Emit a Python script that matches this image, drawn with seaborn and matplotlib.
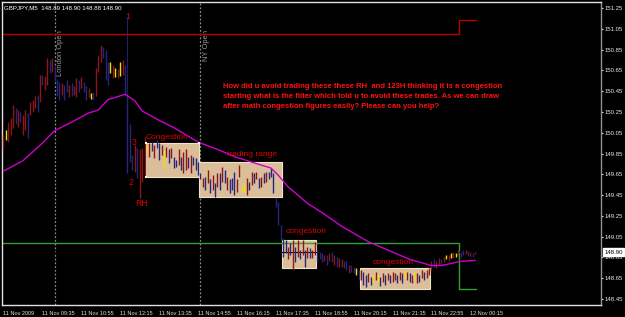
import matplotlib
matplotlib.use("Agg")
import matplotlib.pyplot as plt
import seaborn as sns
import pandas as pd
from matplotlib.patches import Rectangle

# ---------------- data ----------------
symbol_title = "GBPJPY,M5  148.89 148.90 148.88 148.90"

bar_high = [
    150.03, 150.08, 150.15, 150.19, 150.32, 150.29, 150.27, 150.25, 150.22, 150.27,
    150.24, 150.35, 150.37, 150.40, 150.41, 150.61, 150.61, 150.60, 150.77, 150.75,
    150.77, 150.69, 150.56, 150.54, 150.53, 150.51, 150.56, 150.51, 150.53, 150.50,
    150.58, 150.56, 150.59, 150.54, 150.50, 150.48, 150.43, 150.44, 150.67, 150.80,
    150.90, 150.88, 150.85, 150.73, 150.73, 150.70, 150.67, 150.66, 150.73, 150.75,
    150.70, 150.43, 150.13, 149.84, 149.93, 149.90, 149.89, 149.90, 150.01, 149.93,
    149.95, 149.96, 149.93, 149.98, 149.95, 149.93, 149.87, 149.91, 149.89, 149.90,
    149.82, 149.79, 149.89, 149.82, 149.86, 149.89, 149.82, 149.84, 149.82, 149.81,
    149.77, 149.66, 149.61, 149.62, 149.69, 149.60, 149.64, 149.57, 149.66, 149.66,
    149.72, 149.69, 149.62, 149.60, 149.61, 149.67, 149.60, 149.74, 149.53, 149.57,
    149.61, 149.58, 149.67, 149.66, 149.67, 149.61, 149.62, 149.66, 149.67, 149.67,
    149.71, 149.66, 149.42, 149.38, 149.16, 149.04, 149.02, 148.95, 148.99, 149.02,
    148.95, 149.02, 148.92, 149.02, 148.92, 148.95, 148.94, 148.92, 149.00, 148.92,
    148.90, 148.89, 148.87, 148.87, 148.89, 148.90, 148.87, 148.85, 148.84, 148.83,
    148.81, 148.81, 148.78, 148.78, 148.76, 148.75, 148.73, 148.73, 148.71, 148.68,
    148.70, 148.66, 148.68, 148.71, 148.68, 148.66, 148.70, 148.68, 148.70, 148.68,
    148.71, 148.70, 148.68, 148.71, 148.70, 148.73, 148.71, 148.70, 148.68, 148.71,
    148.70, 148.68, 148.73, 148.71, 148.73, 148.75, 148.81, 148.83, 148.81, 148.84,
    148.83, 148.85, 148.87, 148.87, 148.89, 148.90, 148.89, 148.92, 148.90, 148.92,
    148.92, 148.91, 148.90, 148.89, 148.90,
]
bar_low = [
    149.89, 149.98, 149.96, 150.03, 150.10, 150.13, 150.11, 150.15, 150.03, 150.08,
    150.00, 150.22, 150.25, 150.29, 150.25, 150.35, 150.51, 150.46, 150.51, 150.63,
    150.64, 150.54, 150.40, 150.37, 150.41, 150.37, 150.44, 150.39, 150.40, 150.41,
    150.39, 150.44, 150.48, 150.44, 150.37, 150.39, 150.38, 150.37, 150.40, 150.64,
    150.73, 150.77, 150.56, 150.51, 150.63, 150.58, 150.59, 150.58, 150.60, 150.61,
    150.41, 149.66, 149.77, 149.69, 149.67, 149.61, 149.42, 149.58, 149.64, 149.87,
    149.82, 149.87, 149.81, 149.90, 149.79, 149.84, 149.71, 149.82, 149.76, 149.81,
    149.71, 149.72, 149.74, 149.69, 149.66, 149.69, 149.71, 149.66, 149.74, 149.69,
    149.64, 149.60, 149.53, 149.50, 149.57, 149.47, 149.50, 149.43, 149.53, 149.50,
    149.58, 149.57, 149.50, 149.47, 149.50, 149.45, 149.48, 149.62, 149.48, 149.48,
    149.45, 149.50, 149.55, 149.57, 149.60, 149.52, 149.53, 149.57, 149.58, 149.60,
    149.62, 149.47, 149.33, 149.16, 149.02, 148.85, 148.89, 148.83, 148.87, 148.73,
    148.80, 148.85, 148.83, 148.87, 148.76, 148.84, 148.84, 148.84, 148.87, 148.80,
    148.83, 148.80, 148.81, 148.78, 148.81, 148.80, 148.78, 148.76, 148.76, 148.76,
    148.75, 148.73, 148.70, 148.71, 148.70, 148.68, 148.63, 148.63, 148.58, 148.56,
    148.61, 148.58, 148.60, 148.63, 148.60, 148.57, 148.61, 148.58, 148.63, 148.60,
    148.61, 148.63, 148.60, 148.63, 148.60, 148.65, 148.63, 148.61, 148.60, 148.63,
    148.60, 148.61, 148.65, 148.63, 148.65, 148.68, 148.73, 148.76, 148.75, 148.78,
    148.78, 148.80, 148.83, 148.81, 148.84, 148.84, 148.85, 148.86, 148.85, 148.87,
    148.88, 148.86, 148.86, 148.85, 148.88,
]
# r = up bar, b = down bar, y = highlighted bar
bar_kind = list(
    "ryrrrbrbrrbrrrbrbrrb" "rbbbrbbrbrrbrbbrybrr" "rbbbyryryrbbbbrbrrry"
    "rbrbbryrbrbbrbrrbrbb" "bbrbrbrbrbrbrbbbrryy" "rbrbrbrbrbbbbbbbbrbr"
    "brbrbrbrrbbbrbrbrbrr" "bbrbbybrbbrbyrybrbrb" "rrbrbyrbryrbrbrrrbrr"
    "bryryryrbbrbrbr"
)

ma_bar = [0, 8, 16, 21, 27, 35, 39, 43, 50, 54, 57, 64, 70, 80, 88, 95, 103, 110,
          113, 117, 125, 131, 139, 150, 158, 167, 176, 180, 188, 194]
ma_value = [149.68, 149.78, 149.95, 150.07, 150.14, 150.24, 150.27, 150.37, 150.42,
            150.36, 150.26, 150.17, 150.10, 149.96, 149.89, 149.82, 149.76, 149.71,
            149.64, 149.53, 149.37, 149.28, 149.15, 149.00, 148.92, 148.83, 148.77,
            148.77, 148.81, 148.82]

level_bar = [0, 187.5, 194.5]
upper_level = [151.00, 151.14, 151.14]
lower_level = [148.99, 148.54, 148.54]

bid_price = 148.90
session_bar = [21, 81]
session_label = ["London Open", "NY Open"]
marker1_bar = 51

# boxes: start bar, end bar, top price, bottom price, label
box_start = [58.7, 80.4, 114.5, 146.5]
box_end = [80.4, 114.5, 128.4, 175.2]
box_top = [149.95, 149.77, 149.02, 148.75]
box_bottom = [149.62, 149.43, 148.75, 148.54]
box_label = ["Congestion", "trading range", "congestion", "congestion"]

x_tick_bar = list(range(0, 193, 16))
x_tick_label = ["11 Nov 2009", "11 Nov 09:35", "11 Nov 10:55", "11 Nov 12:15",
                "11 Nov 13:35", "11 Nov 14:55", "11 Nov 16:15", "11 Nov 17:35",
                "11 Nov 18:55", "11 Nov 20:15", "11 Nov 21:35", "11 Nov 22:55",
                "12 Nov 00:15"]
y_tick_value = [151.25, 151.05, 150.85, 150.65, 150.45, 150.25, 150.05, 149.85,
                149.65, 149.45, 149.25, 149.05, 148.85, 148.65, 148.45]

question = ("How did u avoid trading these these RH  and 123H thinking it is a congestion\n"
            "starting what is the filter which told u to avoid these trades. As we can draw\n"
            "after math congestion figures easily? Please can you help?")

# ---------------- style ----------------
sns.set_style("dark")
plt.rcParams["font.family"] = ["Liberation Sans", "DejaVu Sans"]

fig = plt.figure(figsize=(6.25, 3.17), dpi=100, facecolor="black")
ax = fig.add_axes([2 / 625, 12 / 317, 599 / 625, 303 / 317])
ax.set_facecolor("black")

XMAX = 245.7
ax.set_xlim(-0.6, XMAX)
ax.set_ylim(148.39, 151.31)

# boxes
for s, e, t, b in zip(box_start, box_end, box_top, box_bottom):
    ax.add_patch(Rectangle((s, b), e - s, t - b, facecolor="#DABE99",
                           edgecolor="#F2E2C8", lw=0.8, zorder=1))

# session lines
for sb, lab in zip(session_bar, session_label):
    ax.axvline(sb, color="#8A8A8A", lw=0.9, ls=(0, (1.5, 1.5)), zorder=0.5)
    ax.text(sb + 1.0, 151.04, lab, rotation=90, color="#9A9A9A", fontsize=5.4,
            ha="left", va="top", zorder=2)

# bars (muted inside the boxes, as in the reference)
colmap = {"r": "#8E1616", "b": "#26267E", "y": "#F0E000"}
bars = pd.DataFrame({"bar": range(len(bar_high)), "high": bar_high,
                     "low": bar_low, "kind": bar_kind})
for k, grp in bars.groupby("kind"):
    ax.vlines(grp["bar"], grp["low"], grp["high"], color=colmap[k], lw=1.0, zorder=3)

# marker "1" vertical line
ax.vlines(marker1_bar, bar_high[marker1_bar], 151.17, color="#20206A", lw=0.8, zorder=2)

# levels
lv = pd.DataFrame({"bar": level_bar, "up": upper_level, "lo": lower_level})
sns.lineplot(data=lv, x="bar", y="up", ax=ax, color="#B80000", lw=1.0,
             drawstyle="steps-post", estimator=None, zorder=2)
sns.lineplot(data=lv, x="bar", y="lo", ax=ax, color="#33A033", lw=1.0,
             drawstyle="steps-post", estimator=None, zorder=2)

# moving average
ma = pd.DataFrame({"bar": ma_bar, "ma": ma_value})
sns.lineplot(data=ma, x="bar", y="ma", ax=ax, color="#CC00CC", lw=1.0,
             estimator=None, zorder=4)

# bid line
ax.axhline(bid_price, color="black", lw=0.8, zorder=2.5)

# corner handles of the first box
ax.scatter([box_start[0], box_end[0], box_start[0]],
           [box_top[0], box_top[0], box_bottom[0]], s=4, marker="s",
           color="white", zorder=5, linewidths=0)

# annotations
red = "#E00000"
ax.text(marker1_bar, 151.17, "1", color=red, fontsize=6.2, ha="center", va="center", zorder=6)
ax.text(53.7, 149.96, "3", color=red, fontsize=6.2, ha="center", va="center", zorder=6)
ax.text(52.5, 149.57, "2", color=red, fontsize=6.2, ha="center", va="center", zorder=6)
ax.text(56.6, 149.365, "RH", color=red, fontsize=6.2, ha="center", va="center", zorder=6)
label_pos = [(67.3, 150.00), (102.2, 149.84), (124.3, 149.095), (160.4, 148.80)]
for (lx, ly), lab in zip(label_pos, box_label):
    ax.text(lx, ly, lab, color=red, fontsize=6.0, ha="center", va="center", zorder=6)

ax.text(90.3, 150.525, question, color="#FF1010", fontsize=5.5, fontweight="bold",
        ha="left", va="top", linespacing=1.55, zorder=6)

ax.text(0.004, 0.988, symbol_title, transform=ax.transAxes, color="white",
        fontsize=4.4, ha="left", va="top", zorder=6)

# axes / ticks
for sp in ["left", "bottom", "top"]:
    ax.spines[sp].set_color("#E0E0E0")
    ax.spines[sp].set_linewidth(1.0)
ax.spines["right"].set_color("#909090")
ax.spines["right"].set_linewidth(1.0)
ax.grid(False)

ax.yaxis.tick_right()
ax.set_yticks(y_tick_value)
ax.set_yticklabels([f"{v:.2f}" for v in y_tick_value])
ax.tick_params(axis="y", colors="#E8E8E8", labelsize=4.3, length=1.6, width=0.8,
               pad=1.0, right=True, left=False)
ax.set_xticks(x_tick_bar)
ax.set_xticklabels(x_tick_label, ha="left")
ax.tick_params(axis="x", colors="#E0E0E0", labelsize=4.0, length=3, width=0.8, pad=1.5)
ax.set_xlabel("")
ax.set_ylabel("")

# current price box on the axis
ax.annotate(f"{bid_price:.2f}", xy=(1.0, bid_price), xycoords=("axes fraction", "data"),
            xytext=(2.2, 0), textcoords="offset points", fontsize=4.3, color="black",
            ha="left", va="center", zorder=7,
            bbox=dict(boxstyle="square,pad=0.2", fc="white", ec="white"),
            annotation_clip=False)

fig.savefig("out.png", dpi=100, facecolor="black")
